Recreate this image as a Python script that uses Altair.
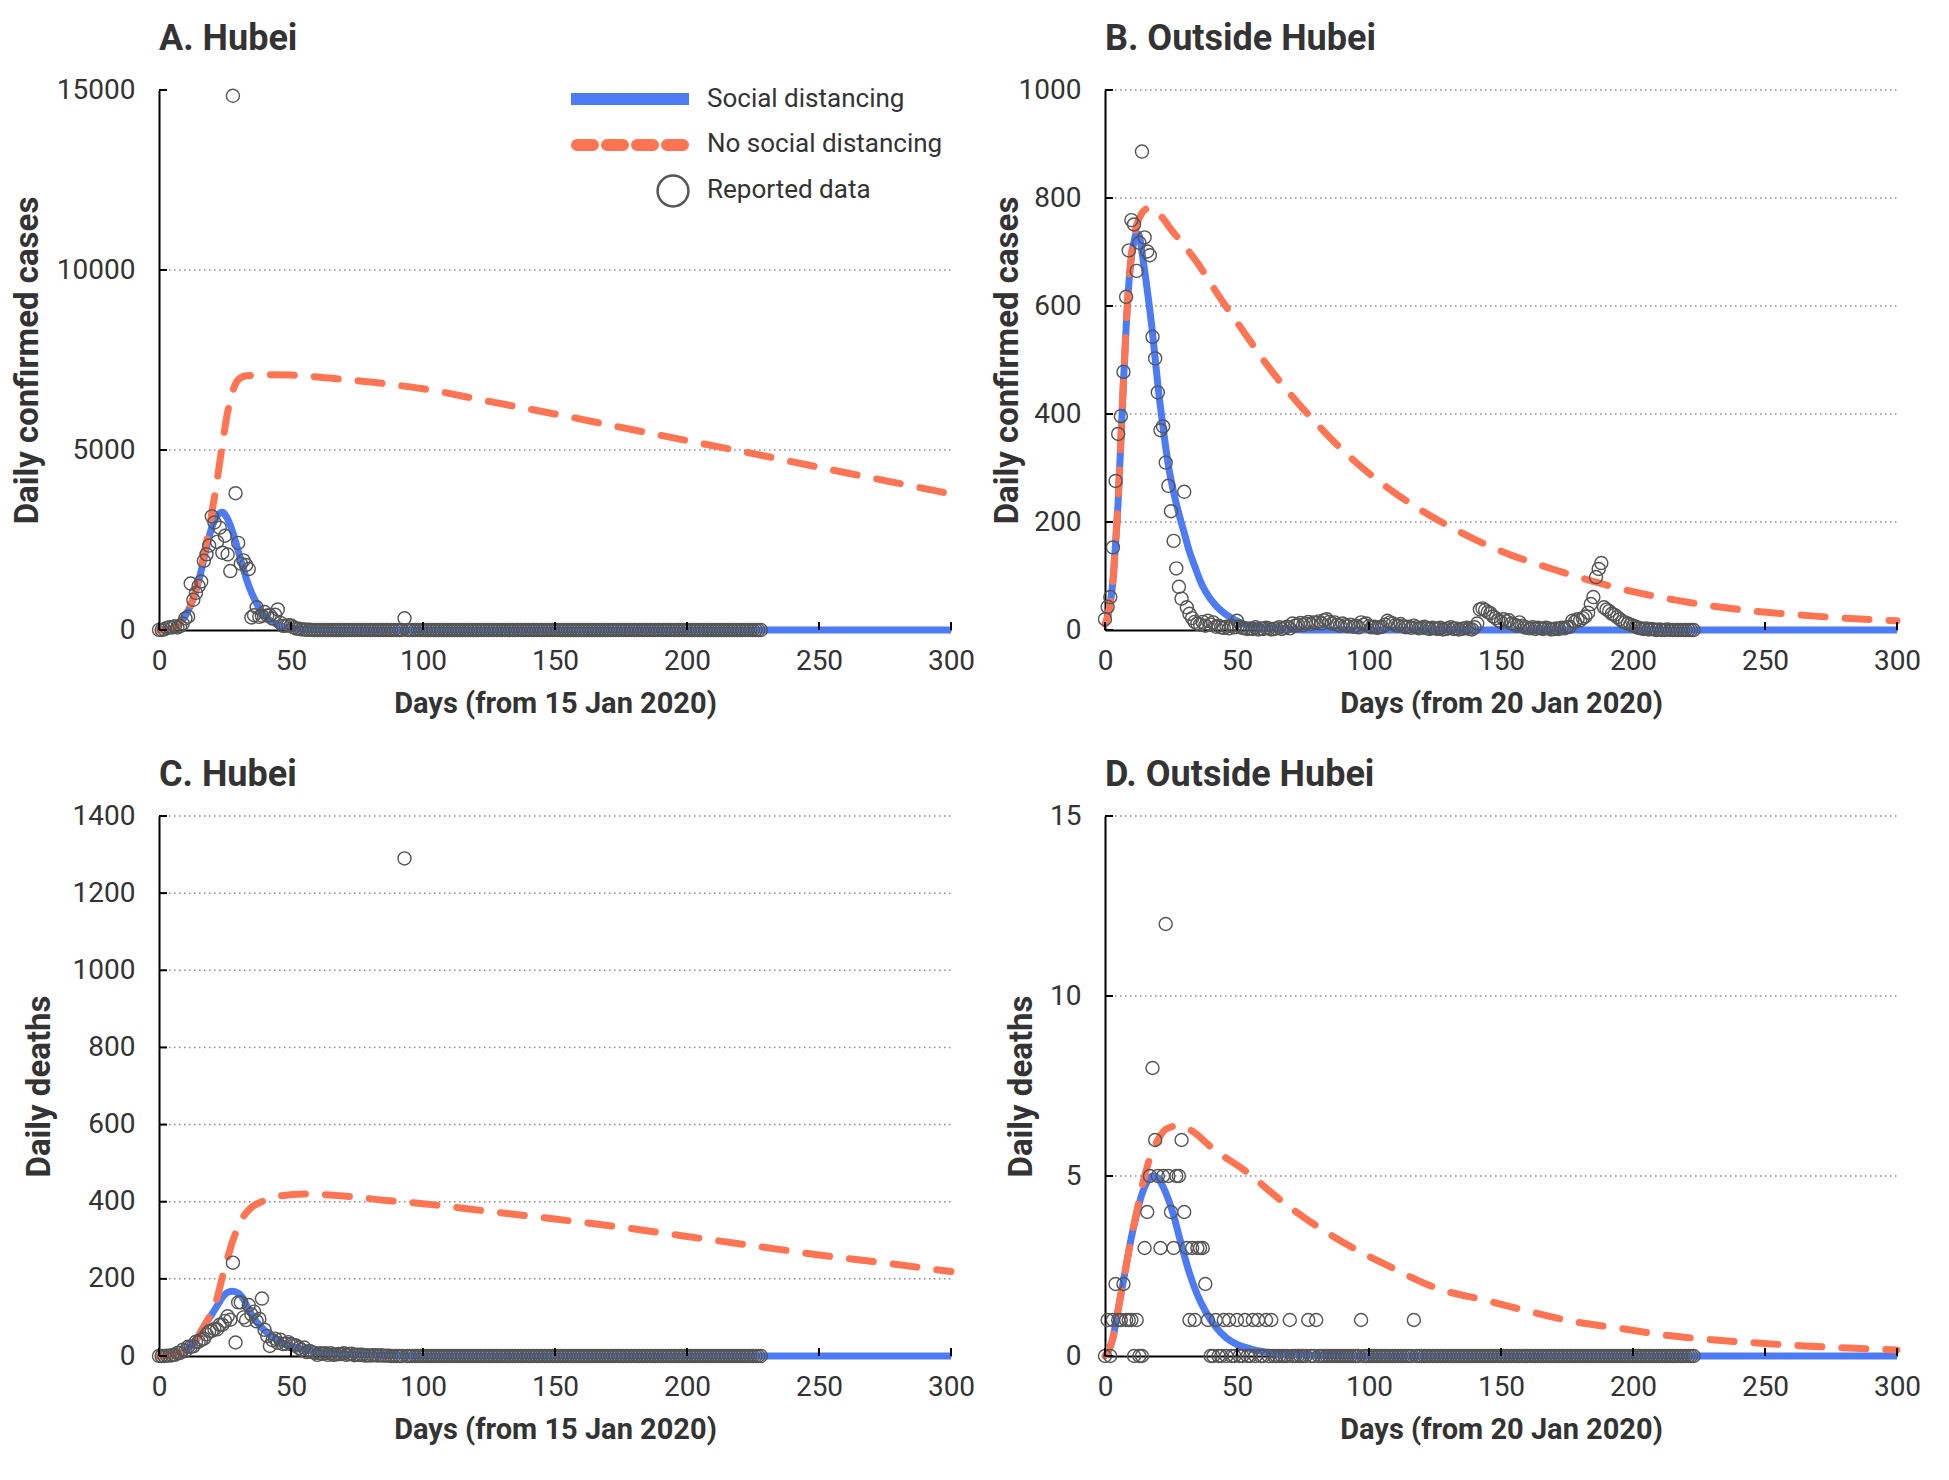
import altair as alt
import pandas as pd

FONT = "Roboto"
BLUE = "#4D7BF3"
ORANGE = "#FF7452"
INK = "#333333"
W, H = 792, 540

X_TICKS = [0, 50, 100, 150, 200, 250, 300]

# reported daily confirmed cases, Hubei (day 0 = 15 Jan 2020)
hubei_cases = [
    4, 0, 17, 59, 77, 72, 105, 69, 105, 180,
    323, 371, 1291, 840, 1032, 1220, 1347, 1921, 2103, 2345,
    3156, 2987, 2447, 2841, 2147, 2618, 2097, 1638, 14840, 3800,
    2420, 1843, 1933, 1807, 1693, 349, 411, 631, 366, 398,
    499, 401, 409, 318, 423, 570, 196, 114, 115, 134,
    126, 74, 41, 36, 17, 13, 8, 5, 4, 1,
    0, 1, 1, 0, 0, 0, 0, 0, 0, 0,
    0, 0, 0, 0, 0, 0, 0, 0, 0, 0,
    0, 0, 0, 0, 0, 0, 0, 0, 0, 0,
    0, 0, 0, 325, 0, 0, 0, 0, 0, 0,
    0, 0, 0, 0, 0, 0, 0, 0, 0, 0, 0, 0, 0, 0, 0, 0, 0, 0, 0, 0,
    0, 0, 0, 0, 0, 0, 0, 0, 0, 0, 0, 0, 0, 0, 0, 0, 0, 0, 0, 0,
    0, 0, 0, 0, 0, 0, 0, 0, 0, 0, 0, 0, 0, 0, 0, 0, 0, 0, 0, 0,
    0, 0, 0, 0, 0, 0, 0, 0, 0, 0, 0, 0, 0, 0, 0, 0, 0, 0, 0, 0,
    0, 0, 0, 0, 0, 0, 0, 0, 0, 0, 0, 0, 0, 0, 0, 0, 0, 0, 0, 0,
    0, 0, 0, 0, 0, 0, 0, 0, 0, 0, 0, 0, 0, 0, 0, 0, 0, 0, 0, 0,
    0, 0, 0, 0, 0, 0, 0, 0, 0,
]

# reported daily confirmed cases, outside Hubei (day 0 = 20 Jan 2020)
outside_cases = [
    20, 43, 61, 153, 276, 363, 396, 478, 617, 703,
    759, 751, 665, 717, 886, 727, 701, 694, 543, 503,
    440, 370, 377, 310, 267, 220, 165, 114, 80, 58,
    256, 42, 30, 22, 15, 12, 10, 15, 8, 17,
    10, 14, 6, 8, 5, 4, 6, 3, 8, 5,
    17, 6, 4, 3, 2, 3, 2, 5, 1, 3,
    2, 4, 3, 1, 2, 3, 5, 2, 4, 6,
    3, 12, 8, 10, 13, 9, 12, 15, 11, 14,
    13, 16, 12, 18, 20, 15, 12, 14, 10, 8,
    12, 9, 7, 10, 6, 8, 5, 14, 10, 12,
    7, 5, 6, 4, 5, 6, 10, 17, 14, 12,
    9, 8, 11, 7, 5, 6, 4, 8, 5, 3,
    4, 6, 3, 2, 4, 3, 2, 4, 1, 2,
    3, 5, 2, 3, 1, 2, 3, 4, 2, 1,
    5, 12, 38, 40, 37, 33, 31, 25, 22, 18,
    15, 20, 16, 18, 12, 10, 8, 14, 8, 5,
    4, 3, 5, 2, 4, 3, 2, 4, 3, 1,
    2, 3, 2, 4, 3, 5, 6, 17, 15, 20,
    18, 22, 25, 32, 48, 61, 98, 113, 124, 42,
    38, 35, 30, 28, 24, 20, 16, 14, 12, 10,
    8, 6, 4, 3, 2, 3, 1, 2, 1, 0,
    1, 0, 0, 1, 0, 0, 0, 0, 0, 0,
    0, 0, 0, 0,
]

# reported daily deaths, Hubei
hubei_deaths = [
    0, 0, 0, 1, 1, 2, 3, 8, 8, 16,
    13, 24, 24, 25, 37, 37, 42, 45, 56, 64,
    65, 70, 69, 81, 81, 91, 103, 94, 242, 35,
    139, 139, 100, 93, 132, 108, 115, 90, 96, 149,
    68, 52, 26, 41, 45, 34, 42, 31, 32, 36,
    31, 28, 27, 21, 16, 22, 10, 13, 10, 8,
    3, 7, 6, 7, 3, 7, 3, 4, 5, 5,
    7, 3, 5, 6, 2, 3, 3, 3, 1, 2,
    1, 2, 2, 1, 2, 1, 1, 1, 0, 0,
    0, 0, 0, 1290, 0, 0, 0, 0, 0, 0,
    0, 0, 0, 0, 0, 0, 0, 0, 0, 0, 0, 0, 0, 0, 0, 0, 0, 0, 0, 0,
    0, 0, 0, 0, 0, 0, 0, 0, 0, 0, 0, 0, 0, 0, 0, 0, 0, 0, 0, 0,
    0, 0, 0, 0, 0, 0, 0, 0, 0, 0, 0, 0, 0, 0, 0, 0, 0, 0, 0, 0,
    0, 0, 0, 0, 0, 0, 0, 0, 0, 0, 0, 0, 0, 0, 0, 0, 0, 0, 0, 0,
    0, 0, 0, 0, 0, 0, 0, 0, 0, 0, 0, 0, 0, 0, 0, 0, 0, 0, 0, 0,
    0, 0, 0, 0, 0, 0, 0, 0, 0, 0, 0, 0, 0, 0, 0, 0, 0, 0, 0, 0,
    0, 0, 0, 0, 0, 0, 0, 0, 0,
]

# reported daily deaths, outside Hubei
outside_deaths = [
    0, 1, 0, 1, 2, 1, 1, 2, 1, 1,
    1, 0, 1, 0, 0, 3, 4, 5, 8, 6,
    5, 3, 5, 12, 5, 4, 3, 5, 5, 6,
    4, 3, 1, 3, 1, 3, 3, 3, 2, 1,
    0, 0, 1, 0, 0, 1, 0, 1, 0, 0,
    1, 0, 0, 1, 0, 0, 1, 0, 1, 0,
    0, 1, 0, 1, 0, 0, 0, 0, 0, 0,
    1, 0, 0, 0, 0, 0, 0, 1, 0, 0,
    1, 0, 0, 0, 0, 0, 0, 0, 0, 0,
    0, 0, 0, 0, 0, 0, 0, 1, 0, 0,
    0, 0, 0, 0, 0, 0, 0, 0, 0, 0,
    0, 0, 0, 0, 0, 0, 0, 1, 0, 0,
    0, 0, 0, 0, 0, 0, 0, 0, 0, 0, 0, 0, 0, 0, 0, 0, 0, 0, 0, 0,
    0, 0, 0, 0, 0, 0, 0, 0, 0, 0, 0, 0, 0, 0, 0, 0, 0, 0, 0, 0,
    0, 0, 0, 0, 0, 0, 0, 0, 0, 0, 0, 0, 0, 0, 0, 0, 0, 0, 0, 0,
    0, 0, 0, 0, 0, 0, 0, 0, 0, 0, 0, 0, 0, 0, 0, 0, 0, 0, 0, 0,
    0, 0, 0, 0, 0, 0, 0, 0, 0, 0, 0, 0, 0, 0, 0, 0, 0, 0, 0, 0,
    0, 0, 0, 0,
]

# model curves (sample days, values)
a_sd_days = [0, 4, 6, 8, 10, 12, 14, 16, 18, 20, 22, 24, 26, 28, 30, 32, 34, 36,
             38, 40, 43, 46, 50, 55, 60, 70, 80, 300]
a_sd_vals = [0, 20, 80, 200, 400, 680, 1100, 1650, 2300, 2850, 3170, 3270, 3080,
             2700, 2200, 1680, 1230, 880, 600, 400, 220, 120, 50, 15, 5, 1, 0, 0]
a_no_days = [0, 4, 6, 8, 10, 12, 14, 16, 18, 20, 22, 24, 26, 28, 30, 33, 40, 50,
             60, 70, 80, 90, 100, 125, 150, 175, 200, 225, 250, 275, 300]
a_no_vals = [0, 20, 80, 200, 400, 700, 1150, 1750, 2450, 3250, 4150, 5150, 6050,
             6650, 6950, 7060, 7090, 7080, 7030, 6960, 6890, 6800, 6700, 6350,
             6000, 5630, 5260, 4900, 4520, 4150, 3780]

b_sd_days = [0, 1, 2, 3, 4, 5, 6, 7, 8, 9, 10, 11, 12, 13, 14, 16, 18, 20, 22,
             24, 26, 28, 30, 32, 34, 36, 38, 42, 46, 52, 60, 70, 80, 300]
b_sd_vals = [10, 25, 50, 90, 160, 240, 350, 460, 560, 640, 690, 720, 735, 730,
             700, 630, 550, 455, 375, 305, 255, 215, 180, 145, 118, 92, 72, 45,
             28, 12, 4, 1, 0, 0]
b_no_days = [0, 1, 2, 3, 4, 5, 6, 7, 8, 9, 10, 12, 14, 16, 18, 20, 22, 25, 30,
             35, 40, 45, 50, 55, 60, 70, 80, 90, 100, 110, 120, 130, 140, 150,
             160, 170, 180, 190, 200, 210, 220, 240, 260, 280, 300]
b_no_vals = [10, 25, 50, 90, 160, 240, 350, 460, 560, 640, 695, 750, 772, 780,
             780, 772, 762, 742, 712, 680, 642, 605, 570, 535, 500, 438, 383,
             333, 290, 253, 221, 193, 168, 146, 128, 112, 97, 83, 71, 61, 52,
             38, 29, 22, 17]

c_sd_days = [0, 5, 10, 14, 16, 18, 20, 22, 24, 26, 28, 30, 32, 34, 36, 38, 40,
             44, 48, 55, 60, 70, 80, 90, 100, 300]
c_sd_vals = [0, 3, 15, 40, 65, 88, 108, 130, 152, 165, 168, 163, 148, 120, 98,
             80, 66, 45, 30, 17, 12, 6, 3, 1, 0, 0]
c_no_days = [0, 5, 10, 14, 16, 18, 20, 22, 24, 26, 28, 30, 32, 35, 38, 45, 55,
             70, 85, 100, 125, 150, 175, 200, 225, 250, 275, 300]
c_no_vals = [0, 3, 15, 40, 65, 88, 115, 150, 205, 255, 300, 335, 362, 385, 397,
             414, 420, 415, 404, 395, 375, 355, 334, 310, 286, 262, 241, 219]

d_sd_days = [0, 3, 5, 8, 10, 12, 14, 16, 18, 20, 22, 24, 26, 28, 30, 32, 35, 38,
             42, 46, 50, 55, 60, 70, 80, 100, 300]
d_sd_vals = [0, 0.5, 1.3, 2.5, 3.3, 3.95, 4.5, 4.85, 5.0, 4.95, 4.7, 4.35, 3.9,
             3.35, 2.8, 2.3, 1.7, 1.25, 0.8, 0.5, 0.32, 0.2, 0.12, 0.05, 0.02, 0, 0]
d_no_days = [0, 3, 5, 8, 10, 12, 14, 17, 20, 23, 28, 33, 41, 53, 67, 81, 96, 106,
             127, 144, 160, 178, 196, 212, 230, 247, 265, 282, 300]
d_no_vals = [0, 0.5, 1.3, 2.5, 3.3, 4.0, 4.7, 5.5, 6.0, 6.3, 6.4, 6.25, 5.75,
             5.15, 4.3, 3.57, 2.92, 2.55, 1.85, 1.55, 1.25, 0.95, 0.76, 0.58,
             0.45, 0.36, 0.28, 0.22, 0.17]


def make_panel(title, x_title, y_title, title_x, reported, sd, no_sd,
               y_max, y_ticks, grid_vals, title_offset, legend=False):
    xs = alt.Scale(domain=[0, 300], nice=False, zero=False)
    ys = alt.Scale(domain=[0, y_max], nice=False)

    # same axis objects on every layer so the merged axes survive
    x_axis = alt.Axis(values=X_TICKS, title=x_title, grid=False, ticks=False,
                      tickSize=0, labelPadding=17, labelFlush=False, format="d",
                      titleY=82, titleBaseline="alphabetic")
    y_axis = alt.Axis(values=y_ticks, title=y_title, grid=False, ticks=False,
                      tickSize=0, labelPadding=24, format="d",
                      titleX=title_x, titleY=H / 2,
                      titleAlign="center", titleBaseline="middle")
    X = lambda: alt.X("day:Q", scale=xs, axis=x_axis)
    Y = lambda: alt.Y("value:Q", scale=ys, axis=y_axis)

    pts = pd.DataFrame({"day": range(len(reported)), "value": reported})
    blue = pd.DataFrame({"day": sd[0], "value": sd[1]})
    orange = pd.DataFrame({"day": no_sd[0], "value": no_sd[1]})

    grid = alt.Chart(pd.DataFrame({"value": grid_vals})).mark_rule(
        color="#8a8a8a", strokeWidth=1.5, strokeDash=[1.5, 3.5]
    ).encode(y=Y(), x=alt.value(0), x2=alt.value(W))

    sd_line = alt.Chart(blue).mark_line(
        color=BLUE, strokeWidth=7, interpolate="monotone"
    ).encode(x=X(), y=Y())

    no_line = alt.Chart(orange).mark_line(
        color=ORANGE, strokeWidth=7, strokeDash=[24, 20], strokeCap="round",
        interpolate="monotone"
    ).encode(x=X(), y=Y())

    dots = alt.Chart(pts).mark_point(
        shape="circle", filled=False, color="#555555", size=170,
        strokeWidth=1.4, opacity=1
    ).encode(x=X(), y=Y())

    y_tick_marks = alt.Chart(pd.DataFrame({"value": y_ticks})).mark_rule(
        color="black", strokeWidth=2
    ).encode(y=Y(), x=alt.value(0), x2=alt.value(8))

    x_tick_marks = alt.Chart(pd.DataFrame({"day": X_TICKS})).mark_rule(
        color="black", strokeWidth=2
    ).encode(x=X(), y=alt.value(H), y2=alt.value(H - 8))

    # draw order: grid, lines, then dots on top
    layers = [grid, sd_line, no_line, dots, y_tick_marks, x_tick_marks]

    if legend:
        one = pd.DataFrame({"k": [0]})
        layers.append(alt.Chart(one).mark_rule(color=BLUE, strokeWidth=12).encode(
            x=alt.value(412), x2=alt.value(530), y=alt.value(9)))
        layers.append(alt.Chart(one).mark_rule(
            color=ORANGE, strokeWidth=12, strokeDash=[16, 14], strokeCap="round"
        ).encode(x=alt.value(418), x2=alt.value(526), y=alt.value(55)))
        layers.append(alt.Chart(one).mark_point(
            shape="circle", filled=False, color="#555555", size=950,
            strokeWidth=2.5, opacity=1
        ).encode(x=alt.value(514), y=alt.value(101)))
        for label, ypos in [("Social distancing", 9),
                            ("No social distancing", 54),
                            ("Reported data", 100)]:
            layers.append(alt.Chart(one).mark_text(
                text=label, align="left", baseline="middle", font=FONT,
                fontSize=26, color=INK
            ).encode(x=alt.value(548), y=alt.value(ypos)))

    return alt.layer(*layers).properties(
        width=W, height=H,
        title=alt.TitleParams(title, anchor="start", frame="group", font=FONT,
                              fontSize=36, fontWeight="bold", color=INK,
                              offset=title_offset),
    )


panel_a = make_panel("A. Hubei", "Days (from 15 Jan 2020)", "Daily confirmed cases",
                     -132, hubei_cases, (a_sd_days, a_sd_vals), (a_no_days, a_no_vals),
                     15000, [0, 5000, 10000, 15000], [5000, 10000], 18, legend=True)
panel_b = make_panel("B. Outside Hubei", "Days (from 20 Jan 2020)", "Daily confirmed cases",
                     -98, outside_cases, (b_sd_days, b_sd_vals), (b_no_days, b_no_vals),
                     1000, [0, 200, 400, 600, 800, 1000], [200, 400, 600, 800, 1000], 18)
panel_c = make_panel("C. Hubei", "Days (from 15 Jan 2020)", "Daily deaths",
                     -120, hubei_deaths, (c_sd_days, c_sd_vals), (c_no_days, c_no_vals),
                     1400, [0, 200, 400, 600, 800, 1000, 1200, 1400],
                     [200, 400, 600, 800, 1000, 1200, 1400], 8)
panel_d = make_panel("D. Outside Hubei", "Days (from 20 Jan 2020)", "Daily deaths",
                     -84, outside_deaths, (d_sd_days, d_sd_vals), (d_no_days, d_no_vals),
                     15, [0, 5, 10, 15], [5, 10, 15], 8)

chart = alt.concat(
    panel_a, panel_b, panel_c, panel_d,
    columns=2, spacing={"row": 186, "column": 154}, bounds="flush",
).properties(
    padding={"left": 2, "top": 13, "right": 5, "bottom": 5},
).configure(
    font=FONT, background="white",
).configure_view(
    stroke=None,
).configure_axis(
    domainColor="black", domainWidth=2,
    labelFont=FONT, labelFontSize=28, labelColor=INK,
    titleFont=FONT, titleFontWeight="bold", titleColor=INK,
).configure_axisX(
    titleFontSize=29,
).configure_axisY(
    titleFontSize=33,
)

chart.save("out.html", embed_options={"renderer": "svg", "actions": False})
